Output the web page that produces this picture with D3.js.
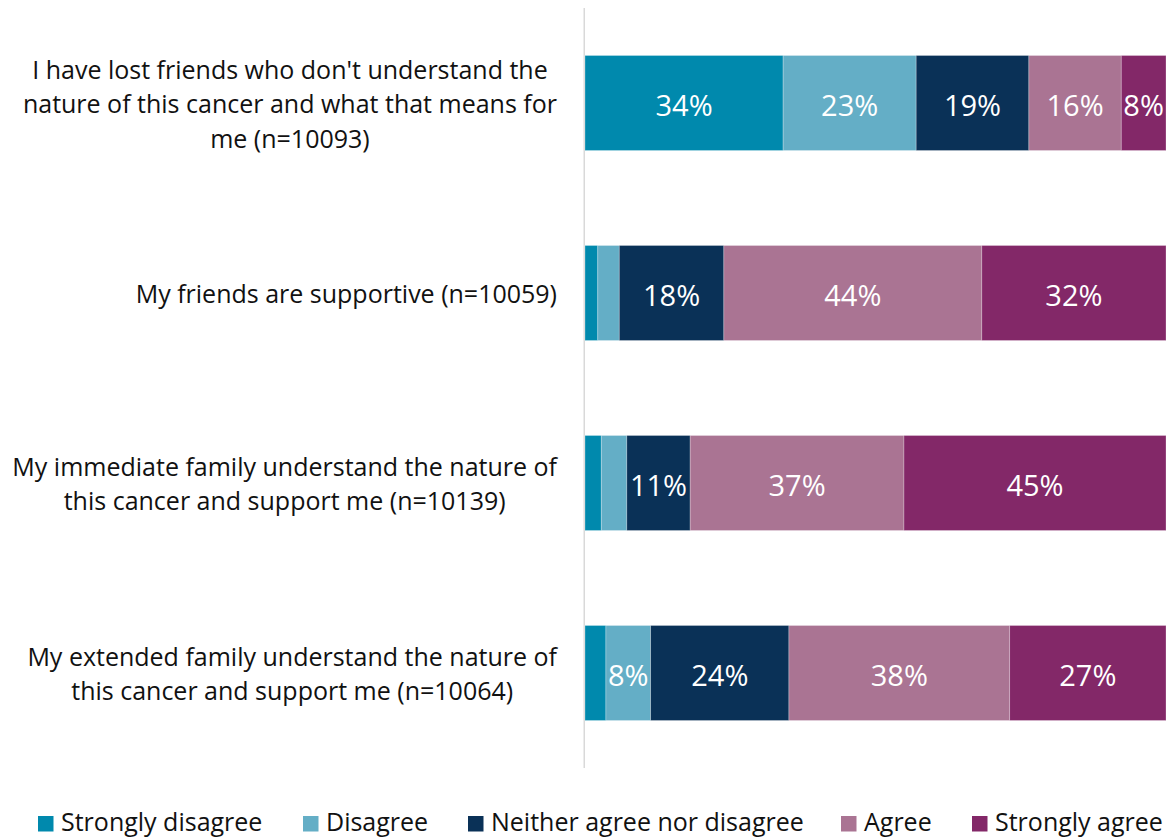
<!DOCTYPE html>
<html>
<head>
<meta charset="utf-8">
<script src="https://cdn.jsdelivr.net/npm/d3@7"></script>
<style>
  html, body { margin: 0; padding: 0; background: #fff; }
  svg { display: block; font-family: "Open Sans", sans-serif; }
</style>
</head>
<body>
<svg id="chart" width="1172" height="838"></svg>
<script>
const categories = [
  "I have lost friends who don't understand the|nature of this cancer and what that means for|me (n=10093)",
  "My friends are supportive (n=10059)",
  "My immediate family understand the nature of|this cancer and support me (n=10139)",
  "My extended family understand the nature of|this cancer and support me (n=10064)"
];
const seriesNames = ["Strongly disagree", "Disagree", "Neither agree nor disagree", "Agree", "Strongly agree"];
const stronglyDisagree = [34.1, 2.2, 2.8, 3.6];
const disagree = [22.9, 3.7, 4.4, 7.7];
const neither = [19.4, 18.0, 10.9, 23.8];
const agree = [15.9, 44.4, 36.8, 38.0];
const stronglyAgree = [7.7, 31.7, 45.1, 26.9];
const colors = ["#0089ad", "#64aec6", "#0a3157", "#aa7493", "#832868"];

const rows = categories.map((c, i) => ({
  cat: c,
  values: [stronglyDisagree[i], disagree[i], neither[i], agree[i], stronglyAgree[i]]
}));

const svg = d3.select("#chart");
const x0 = 585, x1 = 1166;
const x = d3.scaleLinear().domain([0, 100]).range([x0, x1]);
const y = d3.scaleBand().domain(categories).range([8, 768]).paddingInner(0.5).paddingOuter(0.25);

// axis line
svg.append("line").attr("x1", x0 - 0.75).attr("x2", x0 - 0.75).attr("y1", 8).attr("y2", 768)
  .attr("stroke", "#d9d9d9").attr("stroke-width", 1.5);

rows.forEach(r => {
  let acc = 0;
  const g = svg.append("g");
  r.values.forEach((v, j) => {
    const xs = x(acc), xe = x(acc + v);
    g.append("rect").attr("x", xs).attr("y", y(r.cat)).attr("width", xe - xs).attr("height", y.bandwidth())
      .attr("fill", colors[j]).attr("stroke", "rgba(255,255,255,0.35)").attr("stroke-width", 0.75);
    if (v >= 5) {
      g.append("text").attr("x", (xs + xe) / 2).attr("y", y(r.cat) + y.bandwidth() / 2 + 1.5)
        .attr("text-anchor", "middle").attr("dominant-baseline", "central")
        .attr("fill", "#fff").attr("font-size", 29).text(Math.round(v) + "%");
    }
    acc += v;
  });
  // category label
  const lines = r.cat.split("|");
  const lh = 34.5;
  const cy = y(r.cat) + y.bandwidth() / 2;
  const tg = svg.append("g");
  const texts = lines.map((l, k) => tg.append("text")
    .attr("y", cy + (k - (lines.length - 1) / 2) * lh)
    .attr("dominant-baseline", "central").attr("text-anchor", "middle")
    .attr("font-size", 25).attr("fill", "#111").text(l));
  const maxW = d3.max(texts, t => t.node().getComputedTextLength());
  const cx = 557 - maxW / 2;
  texts.forEach(t => t.attr("x", cx));
});

// legend
const legendX = [38, 303, 468, 841, 972];
seriesNames.forEach((n, i) => {
  const g = svg.append("g").attr("transform", `translate(${legendX[i]},0)`);
  g.append("rect").attr("x", 0).attr("y", 816).attr("width", 15.5).attr("height", 15.5).attr("fill", colors[i]);
  g.append("text").attr("x", 23).attr("y", 831)
    .attr("font-size", 25).attr("fill", "#111").text(n);
});
</script>
</body>
</html>
